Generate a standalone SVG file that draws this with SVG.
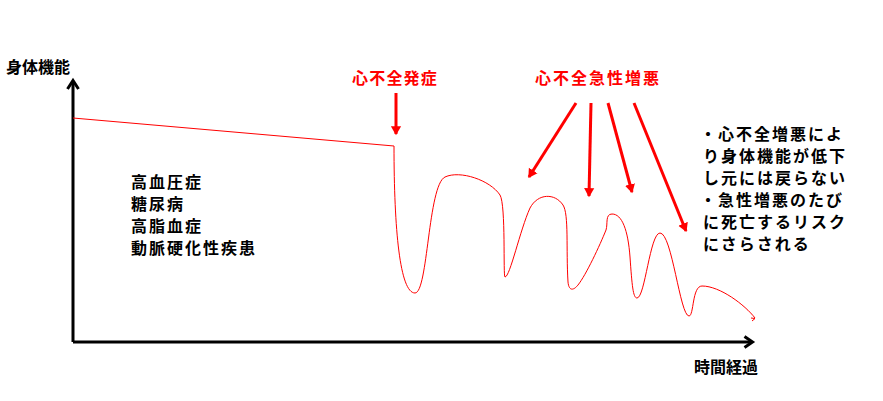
<svg xmlns="http://www.w3.org/2000/svg" width="883" height="401" viewBox="0 0 883 401">
<defs>
<style>
.t{font-family:"Noto Sans CJK JP","Noto Sans",sans-serif;font-weight:700;fill:#000}
.r{fill:#ff0000}
.ax{stroke:#000;stroke-width:3;fill:none}
.ar{stroke:#ff0000;stroke-width:3;fill:none}
.cv{stroke:#ff0000;stroke-width:1;fill:none;stroke-linejoin:round}
</style>
<marker id="rh" markerWidth="4" markerHeight="4" refX="2.6" refY="2" orient="auto" markerUnits="strokeWidth">
<path d="M0,0.3 L3,2 L0,3.7 z" fill="#ff0000"/>
</marker>
</defs>
<rect width="883" height="401" fill="#fff"/>
<g id="axes">
<path class="ax" d="M73,342 L73,81 M73,342 L752,342"/>
<path class="ax" d="M67.5,89 L73,80.5 L78.5,89"/>
<path class="ax" d="M744.5,336.5 L752.5,342 L744.5,347.5"/>
</g>
<g id="labels">
<text class="t" x="6" y="73" font-size="16">身体機能</text>
<text class="t" x="694" y="373" font-size="16">時間経過</text>
<text class="t r" x="352" y="84" font-size="16" letter-spacing="1.2">心不全発症</text>
<text class="t r" x="535" y="84" font-size="16" letter-spacing="2">心不全急性増悪</text>
</g>
<g id="risk-factors" class="t" font-size="16" letter-spacing="2">
<text x="131" y="188">高血圧症</text>
<text x="131" y="210">糖尿病</text>
<text x="131" y="232">高脂血症</text>
<text x="131" y="254">動脈硬化性疾患</text>
</g>
<g id="note" class="t" font-size="16" letter-spacing="2">
<text x="700" y="140">・心不全増悪によ</text>
<text x="703" y="162">り身体機能が低下</text>
<text x="703" y="184">し元には戻らない</text>
<text x="700" y="206">・急性増悪のたび</text>
<text x="703" y="228">に死亡するリスク</text>
<text x="703" y="250">にさらされる</text>
</g>
<g id="connectors">
<line class="ar" x1="396" y1="93" x2="396" y2="134" marker-end="url(#rh)"/>
<line class="ar" x1="576" y1="103" x2="529" y2="177" marker-end="url(#rh)"/>
<line class="ar" x1="591" y1="103" x2="589" y2="196" marker-end="url(#rh)"/>
<line class="ar" x1="608" y1="103" x2="632" y2="192" marker-end="url(#rh)"/>
<line class="ar" x1="634" y1="103" x2="686" y2="231" marker-end="url(#rh)"/>
</g>
<g id="curve">
<path class="cv" d="M73,118 L394,146 C394,230 400,293 415,293 C428,293 428,185 445,177 C460,170 490,180 500,195 C506,205 503,277 505,277 C510,277 520,230 530,208 C538,193 555,193 563,205 C569,214 566,250 568,282 C569,292 574,290 578,285 C586,275 600,245 606,230 C608,224 605,214 612,214 C622,214 628,230 630,257 C632,285 633,298 637,298 C645,298 650,233 660,233 C672,233 680,316 689,316 C694,316 692,286 702,286 C720,286 745,305 755,318"/>
<path class="cv" d="M751,318 L755,318.5 L752,321"/>
</g>
</svg>
